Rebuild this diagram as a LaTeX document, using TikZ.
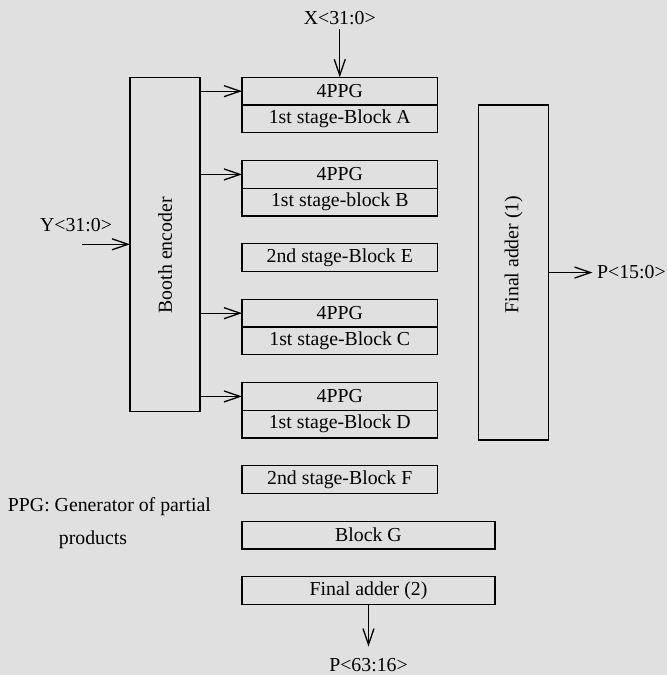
\documentclass[tikz,border=0pt]{standalone}
\usepackage{fontspec}
\setmainfont{Liberation Serif}
\usepackage{graphicx}
\usetikzlibrary{arrows.meta, positioning}

\begin{document}
\begin{tikzpicture}[
        x=1pt, y=1pt,
        node distance=27.75pt,
        line width=1.3pt,
        font=\fontsize{19.8}{24}\selectfont,
        cell/.style={
            draw,
            outer sep=0pt,
            inner sep=0pt,
            minimum height=27.75pt,
            minimum width=195.5pt
        },
        widecell/.style={cell, minimum width=253pt},
        tall/.style={
            draw,
            outer sep=0pt,
            inner sep=0pt,
            minimum width=70pt,
            minimum height=334pt
        },
        signal/.style={inner sep=4pt},
        arrow/.style={-{Straight Barb[length=16pt, width=11pt]}, line width=1.3pt}
    ]

        % Fond gris
        \fill[black!12] (0,0) rectangle (667,-675);
        \useasboundingbox (0,0) rectangle (667,-675);

        % Colonne des blocs
        \node[cell, anchor=north west] (ppgA) at (242,-77.3) {4PPG};
        \node[cell, below=0pt of ppgA] (blockA) {1st stage-Block A};

        \node[cell, below=of blockA] (ppgB) {4PPG};
        \node[cell, below=0pt of ppgB] (blockB) {1st stage-block B};

        \node[cell, below=of blockB] (blockE) {2nd stage-Block E};

        \node[cell, below=of blockE] (ppgC) {4PPG};
        \node[cell, below=0pt of ppgC] (blockC) {1st stage-Block C};

        \node[cell, below=of blockC] (ppgD) {4PPG};
        \node[cell, below=0pt of ppgD] (blockD) {1st stage-Block D};

        \node[cell, below=of blockD] (blockF) {2nd stage-Block F};

        \node[widecell, below=of blockF, xshift=28.75pt] (blockG) {Block G};

        \node[widecell, below=of blockG] (final2) {Final adder (2)};

        % Codeur et additionneur (texte décalé comme sur l'original)
        \node[tall, left=42pt of ppgA.north west, anchor=north east]
            (booth) {\rotatebox{90}{Booth encoder\hspace*{22pt}}};

        \node[tall, right=41pt of ppgA.south east, anchor=north west, minimum height=335pt]
            (final1) {\rotatebox{90}{\hspace*{36pt}Final adder (1)}};

        % Entrées et sorties
        \node[signal, above=48pt of ppgA] (xin) {X<31:0>};

        \coordinate[left=48pt of booth] (yarrow);
        \node[signal, above=12.5pt of yarrow, anchor=base, xshift=-6pt] (yin) {Y<31:0>};

        \node[signal, right=44pt of final1] (pone) {P<15:0>};

        \node[signal, below=49pt of final2] (ptwo) {P<63:16>};

        % Note
        \node[inner sep=0pt, align=left, anchor=base west,
            font=\fontsize{19.8}{33}\selectfont] (note) at (7.3,-544.7)
            {PPG: Generator of partial\\\hspace*{51pt}products};

        % Liaisons
        \draw[arrow] (xin) -- (ppgA);
        \draw[arrow] (yarrow) -- (booth);

        \draw[arrow] (booth.east |- ppgA.west) -- (ppgA.west);
        \draw[arrow] (booth.east |- ppgB.west) -- (ppgB.west);
        \draw[arrow] (booth.east |- ppgC.west) -- (ppgC.west);
        \draw[arrow] (booth.east |- ppgD.west) -- (ppgD.west);

        \draw[arrow] (final1) -- (pone);
        \draw[arrow, shorten >=7pt] (final2) -- (ptwo);

    \end{tikzpicture}
\end{document}
